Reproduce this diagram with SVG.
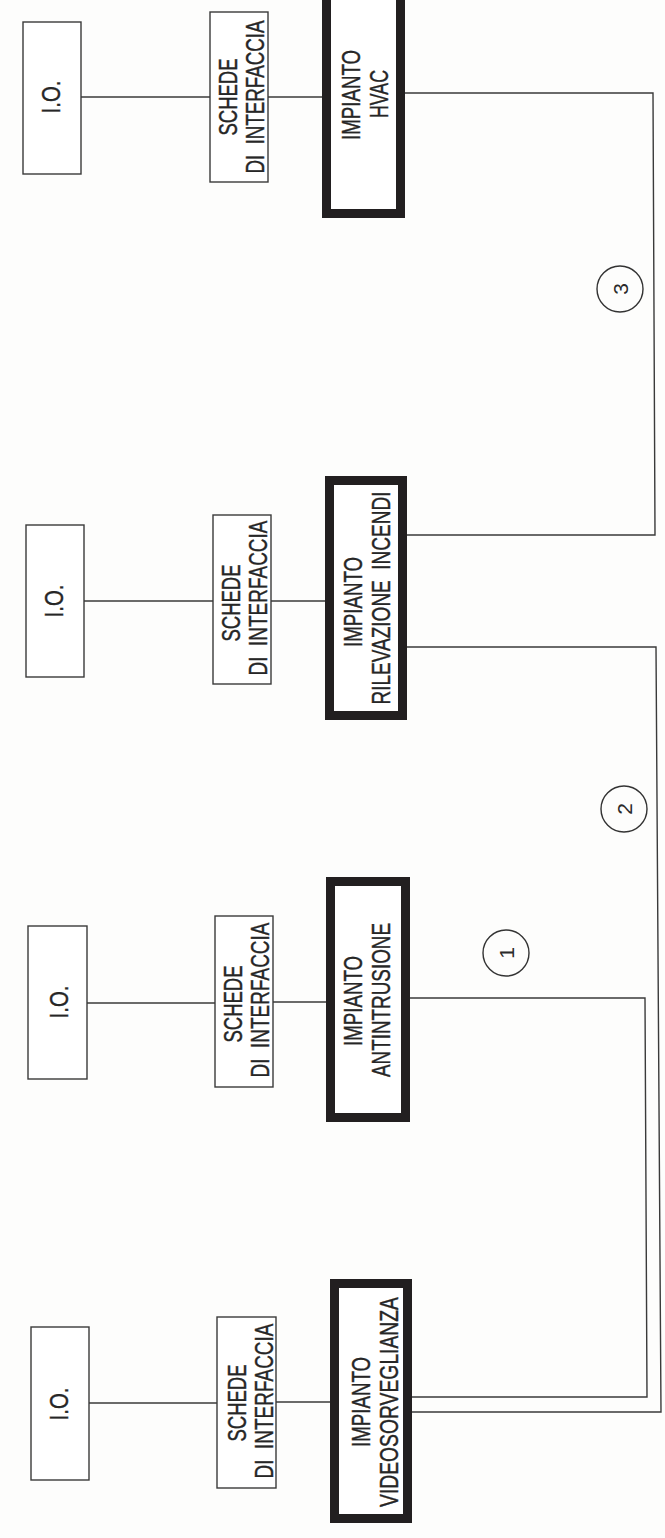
<svg xmlns="http://www.w3.org/2000/svg" width="665" height="1538" viewBox="0 0 665 1538">
<style>
.bg{fill:#fdfdfc}
.thin{fill:#ffffff;stroke:#3a3a3a;stroke-width:1.4}
.thick{fill:#ffffff;stroke:#221f20;stroke-width:9}
.wire{fill:none;stroke:#3a3a3a;stroke-width:1.4}
.lbl{font-family:"Liberation Sans",Arial,sans-serif;font-size:26px;fill:#262626;stroke:#262626;stroke-width:0.4;text-anchor:middle;white-space:pre}
.num{font-family:"Liberation Sans",Arial,sans-serif;font-size:21px;fill:#2a2a2a;text-anchor:middle}
.circ{fill:none;stroke:#333;stroke-width:1.4}
</style>
<rect class="bg" x="0" y="0" width="665" height="1538"/>
<g id="connectors">
<line class="wire" x1="81" y1="97" x2="210" y2="97"/>
<line class="wire" x1="268" y1="97" x2="322" y2="97"/>
<line class="wire" x1="84" y1="601" x2="213" y2="601"/>
<line class="wire" x1="271" y1="601" x2="325" y2="601"/>
<line class="wire" x1="87" y1="1003" x2="215" y2="1003"/>
<line class="wire" x1="273" y1="1002" x2="326" y2="1002"/>
<line class="wire" x1="89" y1="1403" x2="217" y2="1403"/>
<line class="wire" x1="276" y1="1402" x2="330" y2="1402"/>
<path class="wire" d="M405 93 L653 93 L655 535 L407 535"/>
<path class="wire" d="M407 647 L656 647 L661 1412 L412 1412"/>
<path class="wire" d="M410 998 L645 998 L647 1397 L412 1397"/>
</g>
<g id="c3"><circle class="circ" cx="620" cy="289" r="23"/><text class="num" transform="translate(628,289) rotate(-90)">3</text></g>
<g id="c2"><circle class="circ" cx="624" cy="809" r="23"/><text class="num" transform="translate(632,809) rotate(-90)">2</text></g>
<g id="c1"><circle class="circ" cx="506" cy="953" r="23"/><text class="num" transform="translate(514,953) rotate(-90)">1</text></g>

<g id="io-hvac"><rect class="thin" x="23" y="22" width="58" height="152"/><text class="lbl" transform="translate(60,97) rotate(-90)" textLength="33" lengthAdjust="spacingAndGlyphs">I.O.</text></g>
<g id="schede-hvac"><rect class="thin" x="210" y="12" width="58" height="170"/><text class="lbl" transform="translate(237,97) rotate(-90)" textLength="77" lengthAdjust="spacingAndGlyphs">SCHEDE</text><text class="lbl" transform="translate(264,97) rotate(-90)" textLength="153" lengthAdjust="spacingAndGlyphs">DI  INTERFACCIA</text></g>
<g id="hvac"><rect class="thick" x="326.5" y="-19.5" width="74" height="233"/><text class="lbl" transform="translate(360,95) rotate(-90)" textLength="90" lengthAdjust="spacingAndGlyphs">IMPIANTO</text><text class="lbl" transform="translate(388,94) rotate(-90)" textLength="48" lengthAdjust="spacingAndGlyphs">HVAC</text></g>

<g id="io-incendi"><rect class="thin" x="26" y="525" width="58" height="152"/><text class="lbl" transform="translate(63,601) rotate(-90)" textLength="33" lengthAdjust="spacingAndGlyphs">I.O.</text></g>
<g id="schede-incendi"><rect class="thin" x="213" y="515" width="58" height="169"/><text class="lbl" transform="translate(240,603) rotate(-90)" textLength="77" lengthAdjust="spacingAndGlyphs">SCHEDE</text><text class="lbl" transform="translate(267,598) rotate(-90)" textLength="155" lengthAdjust="spacingAndGlyphs">DI  INTERFACCIA</text></g>
<g id="incendi"><rect class="thick" x="329.5" y="480.5" width="73" height="235"/><text class="lbl" transform="translate(362,602) rotate(-90)" textLength="90" lengthAdjust="spacingAndGlyphs">IMPIANTO</text><text class="lbl" transform="translate(390,598) rotate(-90)" textLength="213" lengthAdjust="spacingAndGlyphs">RILEVAZIONE  INCENDI</text></g>

<g id="io-antintrusione"><rect class="thin" x="28" y="926" width="59" height="153"/><text class="lbl" transform="translate(68,1002) rotate(-90)" textLength="33" lengthAdjust="spacingAndGlyphs">I.O.</text></g>
<g id="schede-antintrusione"><rect class="thin" x="215" y="916" width="58" height="171"/><text class="lbl" transform="translate(242,1004) rotate(-90)" textLength="77" lengthAdjust="spacingAndGlyphs">SCHEDE</text><text class="lbl" transform="translate(269,1000) rotate(-90)" textLength="155" lengthAdjust="spacingAndGlyphs">DI  INTERFACCIA</text></g>
<g id="antintrusione"><rect class="thick" x="330.5" y="881.5" width="75" height="236"/><text class="lbl" transform="translate(362,1001) rotate(-90)" textLength="90" lengthAdjust="spacingAndGlyphs">IMPIANTO</text><text class="lbl" transform="translate(390,1000) rotate(-90)" textLength="154" lengthAdjust="spacingAndGlyphs">ANTINTRUSIONE</text></g>

<g id="io-videosorveglianza"><rect class="thin" x="31" y="1327" width="58" height="153"/><text class="lbl" transform="translate(68,1404) rotate(-90)" textLength="33" lengthAdjust="spacingAndGlyphs">I.O.</text></g>
<g id="schede-videosorveglianza"><rect class="thin" x="217" y="1317" width="59" height="171"/><text class="lbl" transform="translate(246,1403) rotate(-90)" textLength="77" lengthAdjust="spacingAndGlyphs">SCHEDE</text><text class="lbl" transform="translate(273,1401) rotate(-90)" textLength="155" lengthAdjust="spacingAndGlyphs">DI  INTERFACCIA</text></g>
<g id="videosorveglianza"><rect class="thick" x="334.5" y="1283.5" width="73" height="235"/><text class="lbl" transform="translate(370,1402) rotate(-90)" textLength="90" lengthAdjust="spacingAndGlyphs">IMPIANTO</text><text class="lbl" transform="translate(398,1402) rotate(-90)" textLength="210" lengthAdjust="spacingAndGlyphs">VIDEOSORVEGLIANZA</text></g>
</svg>
